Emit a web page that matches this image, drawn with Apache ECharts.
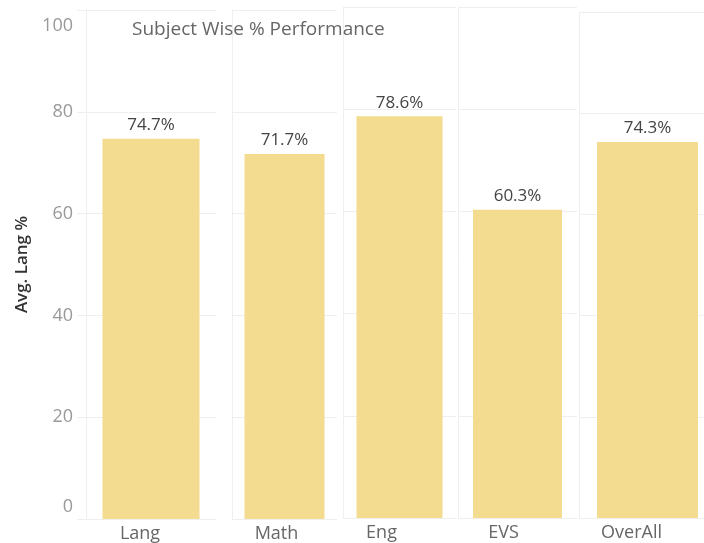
<!DOCTYPE html>
<html>
<head>
<meta charset="utf-8">
<script src="https://cdn.jsdelivr.net/npm/echarts@6/dist/echarts.min.js"></script>
<style>html,body{margin:0;padding:0;background:#fff}#c{width:704px;height:543px}</style>
</head>
<body>
<div id="c"></div>
<script>
const categories = ['Lang', 'Math', 'Eng', 'EVS', 'OverAll'];
const values = [74.7, 71.7, 78.6, 60.3, 74.3];
const titleText = 'Subject Wise % Performance';
const yAxisTitle = 'Avg. Lang %';

// panel layout (Tableau-like separate panes); pad = invisible spacer shifting the bar right
const panels = [
  {left: 86,  right: 488, top: 10, bottom: 23, barW: 97,  shift: 11, pad: 0},
  {left: 232, right: 367, top: 10, bottom: 21, barW: 80,  shift: 8,  pad: 0},
  {left: 343, right: 248, top: 7,  bottom: 25, barW: 86,  shift: 18, pad: 0},
  {left: 458, right: 127, top: 7,  bottom: 25, barW: 89,  shift: 14, pad: 0},
  {left: 579, right: 0,   top: 12, bottom: 25, barW: 101, shift: 10, pad: 12}
];
const FONT = '"Open Sans", "Noto Sans", sans-serif';
const gridLineColor = '#efefef';

const grid = [], xAxis = [], yAxis = [], series = [];
categories.forEach((cat, i) => {
  const p = panels[i];
  grid.push({left: p.left, right: p.right, top: p.top, bottom: p.bottom, containLabel: false});
  xAxis.push({
    type: 'category', gridIndex: i, data: [cat],
    axisLine: {show: false}, axisTick: {show: false},
    axisLabel: {fontFamily: FONT, fontSize: 18, color: '#666', margin: 6, padding: [0, p.shift * 2, 0, 0]}
  });
  const first = i === 0;
  yAxis.push({
    type: 'value', gridIndex: i, min: 0, max: 100, interval: 20,
    name: first ? yAxisTitle : '', nameLocation: 'middle', nameGap: 55, nameRotate: 90,
    nameTextStyle: {fontFamily: FONT, fontSize: 17, fontWeight: 600, color: '#333'},
    axisLine: {show: true, lineStyle: {color: gridLineColor, width: 1}},
    axisTick: {show: first, length: 9, lineStyle: {color: gridLineColor}},
    splitLine: {show: true, lineStyle: {color: gridLineColor, width: 1}},
    axisLabel: {
      show: first, margin: 13, fontFamily: FONT, fontSize: 18, color: '#999',
      formatter: v => v === 0 ? '{b|0}' : (v === 100 ? '{t|100}' : '{m|' + v + '}'),
      rich: {
        b: {fontFamily: FONT, fontSize: 18, color: '#999', padding: [0, 0, 24, 0]},
        t: {fontFamily: FONT, fontSize: 18, color: '#999', padding: [32, 0, 0, 0]},
        m: {fontFamily: FONT, fontSize: 18, color: '#999'}
      }
    }
  });
  if (p.pad) {
    series.push({
      type: 'bar', xAxisIndex: i, yAxisIndex: i, data: [0], barWidth: p.pad, barGap: '0%',
      itemStyle: {color: 'rgba(0,0,0,0)'}, label: {show: false}, silent: true, animation: false
    });
  }
  series.push({
    type: 'bar', xAxisIndex: i, yAxisIndex: i, data: [values[i]], barWidth: p.barW, barGap: '0%',
    itemStyle: {color: '#f3dc8f'},
    label: {show: true, position: 'top', distance: 5, fontFamily: FONT, fontSize: 17, color: '#444',
      formatter: d => d.value.toFixed(1) + '%'},
    silent: true, animation: false
  });
});

const chart = echarts.init(document.getElementById('c'), null, {renderer: 'canvas'});
chart.setOption({
  animation: false,
  backgroundColor: '#fff',
  title: {text: titleText, left: 132, top: 20, padding: 0,
    textStyle: {fontFamily: FONT, fontSize: 19, fontWeight: 'normal', color: '#666'}},
  grid, xAxis, yAxis, series
});
</script>
</body>
</html>
